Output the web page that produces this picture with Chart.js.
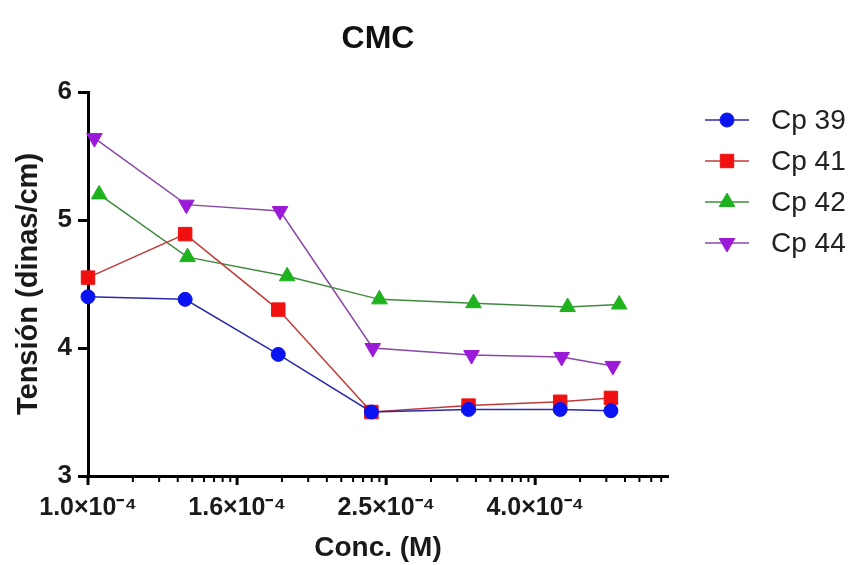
<!DOCTYPE html>
<html>
<head>
<meta charset="utf-8">
<script src="https://cdn.jsdelivr.net/npm/chart.js@4.4.1/dist/chart.umd.min.js"></script>
<style>
  body { margin: 0; background: #fff; }
  canvas { display: block; }
</style>
</head>
<body>
<canvas id="myChart" width="857" height="565"></canvas>
<script>
const ctx = document.getElementById("myChart").getContext("2d");

// concentrations (M) and surface tension values per compound
const seriesLabels = ['Cp 39', 'Cp 41', 'Cp 42', 'Cp 44'];

const concCp39 = [1.00e-4, 1.35e-4, 1.80e-4, 2.40e-4, 3.24e-4, 4.30e-4, 5.03e-4];
const tensCp39 = [4.40, 4.38, 3.95, 3.50, 3.52, 3.52, 3.51];

const concCp41 = [1.00e-4, 1.35e-4, 1.80e-4, 2.40e-4, 3.24e-4, 4.30e-4, 5.03e-4];
const tensCp41 = [4.55, 4.89, 4.30, 3.50, 3.55, 3.58, 3.61];

const concCp42 = [1.035e-4, 1.36e-4, 1.85e-4, 2.46e-4, 3.29e-4, 4.40e-4, 5.16e-4];
const tensCp42 = [5.20, 4.71, 4.56, 4.38, 4.35, 4.32, 4.34];

const concCp44 = [1.02e-4, 1.355e-4, 1.81e-4, 2.41e-4, 3.27e-4, 4.32e-4, 5.06e-4];
const tensCp44 = [5.64, 5.12, 5.07, 4.00, 3.945, 3.93, 3.86];

const xTickValues = [1.0e-4, 1.585e-4, 2.512e-4, 3.981e-4];
const xTickLabels = ['1.0×10⁻⁴', '1.6×10⁻⁴', '2.5×10⁻⁴', '4.0×10⁻⁴'];
const xMin = 1.0e-4;
const xMax = 6.0e-4;
const yMin = 3;
const yMax = 6;

const FONT = "'Liberation Sans', Arial, sans-serif";

function points(xs, ys) {
    return xs.map((x, i) => ({ x: x, y: ys[i] }));
}

// major ticks every 0.2 decade, minor ticks spaced like a log decade inside each step
function buildXTicks() {
    const ticks = [];
    xTickValues.forEach((m) => {
        ticks.push({ value: m, major: true });
        for (let j = 2; j <= 9; j++) {
            const v = m * Math.pow(10, 0.2 * Math.log10(j));
            if (v < xMax) ticks.push({ value: v, major: false });
        }
    });
    return ticks;
}

function makeSet(label, xs, ys, fill, line, style, radius, rotation) {
    return {
        label: label,
        data: points(xs, ys),
        borderColor: line,
        backgroundColor: fill,
        pointBackgroundColor: fill,
        pointBorderColor: fill,
        pointBorderWidth: 1,
        pointStyle: style,
        pointRadius: radius,
        pointRotation: rotation,
        borderWidth: 1.5,
        tension: 0,
        clip: false,
    };
}

const data = {
    datasets: [
        makeSet(seriesLabels[0], concCp39, tensCp39, '#0a14f0', '#2a2aa8', 'circle', 7, 0),
        makeSet(seriesLabels[1], concCp41, tensCp41, '#f01010', '#c03a3a', 'rect', 9.5, 0),
        makeSet(seriesLabels[2], concCp42, tensCp42, '#1fb21f', '#3f8a3f', 'triangle', 9, 0),
        makeSet(seriesLabels[3], concCp44, tensCp44, '#9a1ad8', '#8a48a8', 'triangle', 9, 180),
    ]
};

// tick marks on the x axis: longer for labelled values
const xTickMarks = {
    id: 'xTickMarks',
    afterDraw(chart) {
        const scale = chart.scales.x;
        const c = chart.ctx;
        c.save();
        c.strokeStyle = '#000';
        scale.ticks.forEach((t) => {
            const px = scale.getPixelForValue(t.value);
            c.lineWidth = t.major ? 3 : 2;
            c.beginPath();
            c.moveTo(px, scale.top);
            c.lineTo(px, scale.top + (t.major ? 9 : 6));
            c.stroke();
        });
        c.restore();
    }
};

// legend at the right: line segment, marker, label
const sideLegend = {
    id: 'sideLegend',
    afterDraw(chart) {
        const c = chart.ctx;
        c.save();
        chart.data.datasets.forEach((ds, i) => {
            const y = 120 + i * 41;
            c.strokeStyle = ds.borderColor;
            c.lineWidth = 1.5;
            c.beginPath();
            c.moveTo(705, y);
            c.lineTo(749, y);
            c.stroke();
            c.fillStyle = ds.pointBackgroundColor;
            c.strokeStyle = ds.pointBorderColor;
            c.lineWidth = 1;
            Chart.helpers.drawPoint(c, {
                pointStyle: ds.pointStyle,
                radius: ds.pointRadius,
                rotation: ds.pointRotation,
                borderWidth: 1
            }, 727, y);
            c.fillStyle = '#222';
            c.font = "28px " + FONT;
            c.textAlign = 'left';
            c.textBaseline = 'middle';
            c.fillText(ds.label, 771, y + 1);
        });
        c.restore();
    }
};

const config = {
    type: 'line',
    data: data,
    plugins: [xTickMarks, sideLegend],
    options: {
        responsive: false,
        animation: false,
        layout: {
            padding: { left: 0, right: 189, top: 0, bottom: 0 }
        },
        plugins: {
            legend: { display: false },
            tooltip: { enabled: false },
            title: {
                display: true,
                text: 'CMC',
                fullSize: false,
                color: '#111',
                font: { family: FONT, size: 32, weight: 'bold' },
                padding: { top: 20, bottom: 33.6 }
            }
        },
        scales: {
            x: {
                type: 'logarithmic',
                min: xMin,
                max: xMax,
                afterBuildTicks: (scale) => {
                    scale.ticks = buildXTicks();
                },
                afterFit: (scale) => {
                    scale.height = 89;
                },
                border: { color: '#000', width: 3 },
                grid: { display: true, drawOnChartArea: false, drawTicks: false, color: 'rgba(0,0,0,0)' },
                ticks: {
                    autoSkip: false,
                    maxRotation: 0,
                    padding: 17,
                    color: '#1a1a1a',
                    font: { family: FONT, size: 25, weight: 'bold' },
                    callback: function (value) {
                        const idx = xTickValues.findIndex((v) => Math.abs(v - value) < 1e-9);
                        return idx >= 0 ? xTickLabels[idx] : '';
                    }
                },
                title: {
                    display: true,
                    text: 'Conc. (M)',
                    color: '#1a1a1a',
                    font: { family: FONT, size: 28, weight: 'bold' },
                    padding: { top: 0, bottom: 0 }
                }
            },
            y: {
                min: yMin,
                max: yMax,
                afterFit: (scale) => {
                    scale.width = 88;
                },
                border: { color: '#000', width: 3 },
                grid: {
                    drawOnChartArea: false,
                    drawTicks: true,
                    tickLength: 10,
                    tickWidth: 3,
                    tickColor: '#000'
                },
                ticks: {
                    stepSize: 1,
                    padding: 6,
                    color: '#1a1a1a',
                    font: { family: FONT, size: 26, weight: 'bold' }
                },
                title: {
                    display: true,
                    text: 'Tensión (dinas/cm)',
                    color: '#1a1a1a',
                    font: { family: FONT, size: 29, weight: 'bold' },
                    padding: { top: 12, bottom: 0 }
                }
            }
        }
    }
};

const myChart = new Chart(ctx, config);
</script>
</body>
</html>
